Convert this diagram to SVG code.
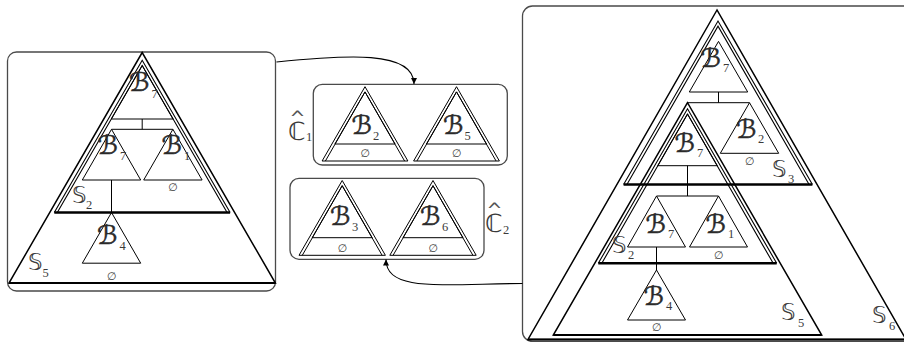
<svg xmlns="http://www.w3.org/2000/svg" width="904" height="342" viewBox="0 0 904 342">
<style>
.panel{fill:none;stroke:#4a4a4a;stroke-width:1.3}
.big{fill:none;stroke:#000;stroke-width:1.5}
.bbase{stroke:#000;stroke-width:2.2}
.dbl{fill:none;stroke:#000;stroke-width:1.1}
.dbase{stroke:#000;stroke-width:2.6}
.tri{fill:none;stroke:#000;stroke-width:1}
.edge{fill:none;stroke:#000;stroke-width:1}
.arrow{fill:none;stroke:#000;stroke-width:1.1;marker-end:url(#ah)}
.B{font-family:"DejaVu Sans","DejaVu Serif",sans-serif;font-size:26px;fill:#2a2a2a;stroke:#2a2a2a;stroke-width:0.5}
.sub{font-family:"Liberation Serif",serif;font-size:12.5px;fill:#3a3a3a;stroke:none}
.S{font-family:"DejaVu Sans",sans-serif;font-size:23px;fill:#3a3a3a}
.C{font-family:"DejaVu Sans",sans-serif;font-size:25px;fill:#3a3a3a}
.hat{font-family:"DejaVu Sans",sans-serif;font-size:19px;fill:#555}
.e{font-family:"DejaVu Sans",sans-serif;font-size:11px;fill:#3a3a3a;text-anchor:middle}
</style>
<defs>
<marker id="ah" viewBox="0 0 10 10" refX="10" refY="5" markerUnits="userSpaceOnUse" markerWidth="7" markerHeight="6" orient="auto">
<path d="M0,0 L10,5 L0,10 z" fill="#000"/>
</marker>
</defs>

<!-- Left panel -->
<g id="panel-left">
<rect class="panel" x="7.5" y="52" width="268" height="239" rx="9"/>
</g>
<g id="L-S5">
<polygon class="big" points="142.2,52.5 9,283 275.4,283"/>
<line class="bbase" x1="9" y1="283" x2="275.4" y2="283"/>
<text class="S" x="28" y="270">𝕊<tspan class="sub" x="42.5" y="277">5</tspan></text>
</g>
<g id="L-S2">
<polyline class="dbl" points="54.3,212.5 142.2,60.3 230.1,212.5"/>
<polyline class="dbl" points="57.3,212.5 142.2,65.5 227.1,212.5"/>
<line class="dbase" x1="54.3" y1="212.5" x2="230.1" y2="212.5"/>
<text class="S" x="72" y="203">𝕊<tspan class="sub" x="86" y="209">2</tspan></text>
</g>
<g id="L-B7-top">
<polygon class="tri" points="142.2,65.5 111.3,119 173.1,119"/>
<text class="B" x="129" y="91">ℬ<tspan class="sub" x="151.5" y="98">7</tspan></text>
</g>
<g id="L-B7">
<polygon class="tri" points="111.5,129.3 82.3,180 140.7,180"/>
<text class="B" x="97.5" y="154">ℬ<tspan class="sub" x="120" y="160">7</tspan></text>
</g>
<g id="L-B1">
<polygon class="tri" points="172.9,129.3 143.7,180 202.1,180"/>
<text class="B" x="161.5" y="154">ℬ<tspan class="sub" x="184" y="160">1</tspan></text>
<text class="e" x="172.9" y="191">∅</text>
</g>
<g id="L-B4">
<polygon class="tri" points="111.5,212.5 82.3,263.2 140.7,263.2"/>
<text class="B" x="97" y="244">ℬ<tspan class="sub" x="119.5" y="250">4</tspan></text>
<text class="e" x="111.5" y="279.5">∅</text>
</g>

<!-- C1 -->
<g id="C1">
<rect class="panel" x="313.3" y="84.3" width="194" height="80.7" rx="9"/>
<text class="C" x="288" y="140">ℂ<tspan class="hat" x="289.5" y="125">^</tspan><tspan class="sub" x="306" y="141">1</tspan></text>
</g>
<g id="C1-B2">
<polygon class="tri" points="322.1,161 365,86.7 407.9,161"/>
<polyline class="tri" points="325.4,161 365,91.9 404.6,161"/>
<polygon class="tri" points="365,91.9 334.9,144 395.1,144"/>
<text class="B" x="351.5" y="134">ℬ<tspan class="sub" x="373" y="140">2</tspan></text>
<text class="e" x="365" y="157">∅</text>
</g>
<g id="C1-B5">
<polygon class="tri" points="413.6,161 456.5,86.7 499.4,161"/>
<polyline class="tri" points="416.9,161 456.5,91.9 496.1,161"/>
<polygon class="tri" points="456.5,91.9 426.4,144 486.6,144"/>
<text class="B" x="443" y="134">ℬ<tspan class="sub" x="464.5" y="140">5</tspan></text>
<text class="e" x="456.5" y="157">∅</text>
</g>

<!-- C2 -->
<g id="C2">
<rect class="panel" x="290" y="178.3" width="194" height="81" rx="9"/>
<text class="C" x="485" y="232">ℂ<tspan class="hat" x="486.5" y="217">^</tspan><tspan class="sub" x="503" y="234">2</tspan></text>
</g>
<g id="C2-B3">
<polygon class="tri" points="299,255.3 342.2,180.5 385.4,255.3"/>
<polyline class="tri" points="302.3,255.3 342.2,185.7 382.1,255.3"/>
<polygon class="tri" points="342.2,185.7 312.2,237.7 372.2,237.7"/>
<text class="B" x="330" y="225">ℬ<tspan class="sub" x="352" y="231">3</tspan></text>
<text class="e" x="342.2" y="251.5">∅</text>
</g>
<g id="C2-B6">
<polygon class="tri" points="389.8,255.3 433,180.5 476.2,255.3"/>
<polyline class="tri" points="393.1,255.3 433,185.7 472.9,255.3"/>
<polygon class="tri" points="433,185.7 403,237.7 463,237.7"/>
<text class="B" x="420" y="225">ℬ<tspan class="sub" x="442" y="231">6</tspan></text>
<text class="e" x="433" y="251.5">∅</text>
</g>

<!-- Right panel -->
<g id="panel-right">
<rect class="panel" x="522.5" y="6" width="400" height="335.5" rx="10"/>
</g>
<g id="R-S6">
<polygon class="big" points="717,10 528,339.5 906,339.5"/>
<line class="bbase" x1="528" y1="339.5" x2="906" y2="339.5"/>
<text class="S" x="872" y="323">𝕊<tspan class="sub" x="889" y="330">6</tspan></text>
</g>
<g id="R-S3">
<polyline class="dbl" points="623.6,184.5 718,21 812.4,184.5"/>
<polyline class="dbl" points="626.9,184.5 718,26.2 809.1,184.5"/>
<line class="dbase" x1="623.6" y1="184.5" x2="812.4" y2="184.5"/>
<text class="S" x="772" y="177">𝕊<tspan class="sub" x="788" y="183">3</tspan></text>
</g>
<g id="R-B7-top">
<polygon class="tri" points="718.5,41.4 689.3,92 747.7,92"/>
<text class="B" x="700.5" y="66.5">ℬ<tspan class="sub" x="723" y="72">7</tspan></text>
</g>
<g id="R-B2">
<polygon class="tri" points="749.5,102.7 720.3,153.3 778.7,153.3"/>
<text class="B" x="736" y="137.5">ℬ<tspan class="sub" x="758" y="143">2</tspan></text>
<text class="e" x="749.5" y="164.5">∅</text>
</g>
<g id="R-S5">
<polygon class="big" points="687.5,102.7 553.3,335 821.7,335"/>
<line class="bbase" x1="553.3" y1="335" x2="821.7" y2="335"/>
<text class="S" x="781" y="320">𝕊<tspan class="sub" x="798" y="327">5</tspan></text>
</g>
<g id="R-S2">
<polyline class="dbl" points="598.3,263.3 687.5,108.8 776.7,263.3"/>
<polyline class="dbl" points="601.8,263.3 687.5,114 773.2,263.3"/>
<line class="dbase" x1="598.3" y1="263.3" x2="776.7" y2="263.3"/>
<text class="S" x="612" y="253">𝕊<tspan class="sub" x="628" y="259">2</tspan></text>
</g>
<g id="R-B7-inner">
<polygon class="tri" points="687.5,114 657.7,165.7 717.3,165.7"/>
<text class="B" x="674.5" y="151.5">ℬ<tspan class="sub" x="697" y="157">7</tspan></text>
</g>
<g id="R-B7">
<polygon class="tri" points="656.5,196 627.5,247 685.5,247"/>
<text class="B" x="645.5" y="232.5">ℬ<tspan class="sub" x="668" y="238">7</tspan></text>
</g>
<g id="R-B1">
<polygon class="tri" points="718.5,196 689.5,247 747.5,247"/>
<text class="B" x="705.5" y="232.5">ℬ<tspan class="sub" x="728" y="238">1</tspan></text>
<text class="e" x="718.5" y="259">∅</text>
</g>
<g id="R-B4">
<polygon class="tri" points="656.5,270 627.5,320 685.5,320"/>
<text class="B" x="643.5" y="304.5">ℬ<tspan class="sub" x="666" y="310">4</tspan></text>
<text class="e" x="656.5" y="331">∅</text>
</g>

<g id="connectors">
<path class="edge" d="M142.2,119 V129.3 M111.5,129.3 H172.9 M111.5,180 V212.5"/>
<path class="edge" d="M718.5,92 V102.7 M687.5,102.7 H749.5 M687.5,165.7 V196 M656.5,196 H718.5 M656.5,247 V270"/>
<path class="arrow" d="M276.5,62 C345,55 414,50 414,84"/>
<path class="arrow" d="M522.5,283.5 C440,284 386,292 386,259.5"/>
</g>
</svg>
